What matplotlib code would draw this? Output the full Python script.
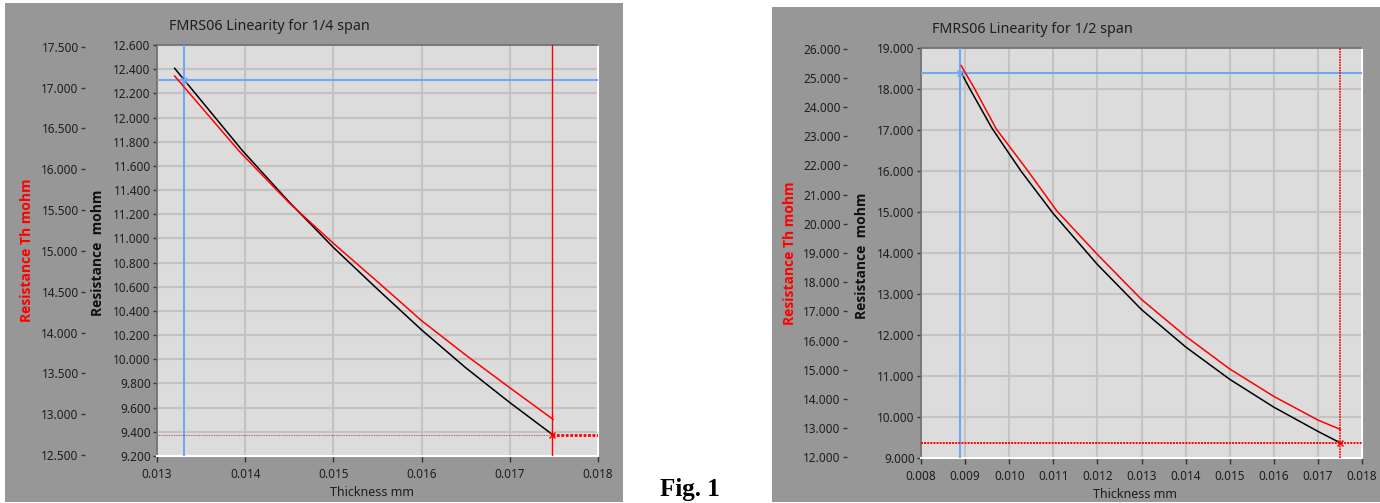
import matplotlib
matplotlib.use("Agg")
import matplotlib.pyplot as plt
from matplotlib.patches import Rectangle
from matplotlib.ticker import FixedLocator, FormatStrFormatter

# ---------------- data ----------------
left_title = "FMRS06 Linearity for 1/4 span"
right_title = "FMRS06 Linearity for 1/2 span"
x_label = "Thickness mm"
y_label_inner = "Resistance  mohm"
y_label_outer = "Resistance Th mohm"
fig_label = "Fig. 1"

# left panel (1/4 span)
left_t_black = [0.01320, 0.01397, 0.01450, 0.01500, 0.01550, 0.01600, 0.01650, 0.01700, 0.01749]
left_r_black = [12.407, 11.725, 11.300, 10.925, 10.580, 10.243, 9.930, 9.642, 9.374]
left_t_red = [0.01320, 0.01393, 0.01450, 0.01500, 0.01550, 0.01600, 0.01650, 0.01700, 0.01749]
left_r_red = [17.141, 16.223, 15.586, 15.092, 14.622, 14.145, 13.725, 13.324, 12.937]
left_xticks = [0.013, 0.014, 0.015, 0.016, 0.017, 0.018]
left_yticks_in = [9.2, 9.4, 9.6, 9.8, 10.0, 10.2, 10.4, 10.6, 10.8, 11.0,
                  11.2, 11.4, 11.6, 11.8, 12.0, 12.2, 12.4, 12.6]
left_yticks_out = [12.5, 13.0, 13.5, 14.0, 14.5, 15.0, 15.5, 16.0, 16.5, 17.0, 17.5]
left_cursor_blue = [0.01331, 12.31]
left_cursor_red = [0.01748, 9.374]

# right panel (1/2 span)
right_t_black = [0.00891, 0.00911, 0.00960, 0.01000, 0.01028, 0.01100, 0.01200,
                 0.01300, 0.01400, 0.01500, 0.01600, 0.01700, 0.01751]
right_r_black = [18.40, 18.00, 17.06, 16.42, 15.98, 14.96, 13.72,
                 12.62, 11.71, 10.92, 10.24, 9.65, 9.367]
right_t_red = [0.00891, 0.00921, 0.00971, 0.01041, 0.01108, 0.01200,
               0.01300, 0.01400, 0.01500, 0.01600, 0.01700, 0.01751]
right_r_red = [25.42, 24.64, 23.24, 21.84, 20.44, 18.95,
               17.41, 16.15, 15.03, 14.09, 13.28, 12.96]
right_xticks = [0.008, 0.009, 0.010, 0.011, 0.012, 0.013, 0.014, 0.015, 0.016, 0.017, 0.018]
right_yticks_in = [9, 10, 11, 12, 13, 14, 15, 16, 17, 18, 19]
right_yticks_out = [12, 13, 14, 15, 16, 17, 18, 19, 20, 21, 22, 23, 24, 25, 26]
right_cursor_blue = [0.00889, 18.40]
right_cursor_red = [0.01751, 9.367]

# ---------------- styling ----------------
W, H = 1380, 503
plt.rcParams["font.family"] = ["Noto Sans", "DejaVu Sans"]
PANEL = "#979797"
PLOTBG = "#dcdcdc"
GRID = "#c3c3c3"
TXT = "#1e1e1e"
BLUE = "#70a9f0"
RED = "#ff0000"
LABEL_FONT = ["Open Sans", "Noto Sans", "DejaVu Sans"]

fig = plt.figure(figsize=(W / 100, H / 100), dpi=100)
fig.patch.set_facecolor("white")


def rect(l, t, r, b):
    return [l / W, 1 - b / H, (r - l) / W, (b - t) / H]


def gray_panel(l, t, r, b):
    fig.add_artist(Rectangle((l / W, 1 - b / H), (r - l) / W, (b - t) / H,
                             transform=fig.transFigure, facecolor=PANEL,
                             edgecolor="none", zorder=-5))


def panel(box, xlim, xticks, ylim_in, yticks_in, ylim_out, yticks_out,
          t_blk, r_blk, t_red, r_red, cur_b, cur_r, outward_px, thin_left):
    ax = fig.add_axes(rect(*box))
    ax.set_facecolor(PLOTBG)
    ax.set_xlim(*xlim)
    ax.set_ylim(*ylim_in)
    ax.xaxis.set_major_locator(FixedLocator(xticks))
    ax.yaxis.set_major_locator(FixedLocator(yticks_in))
    ax.xaxis.set_major_formatter(FormatStrFormatter("%.3f"))
    ax.yaxis.set_major_formatter(FormatStrFormatter("%.3f"))
    ax.grid(True, color=GRID, lw=1.5, zorder=0)
    ax.set_axisbelow(True)
    for s in ("top", "left"):
        ax.spines[s].set_color("#6f6f6f")
        ax.spines[s].set_linewidth(1.2)
    for s in ("bottom", "right"):
        ax.spines[s].set_color("white")
        ax.spines[s].set_linewidth(1.5)
    ax.tick_params(axis="x", direction="out", length=4.5, width=1, color="#333333",
                   pad=4.5, labelsize=8.5, labelcolor=TXT)
    ax.tick_params(axis="y", direction="out", length=3, width=1, color="#333333",
                   pad=1.5, labelsize=8.5, labelcolor=TXT)

    # black trace (inner axis)
    ax.plot(t_blk, r_blk, color="black", lw=1.1, zorder=4)

    # cursors
    ax.axvline(cur_b[0], color=BLUE, lw=1.5, zorder=3)
    ax.axhline(cur_b[1], color=BLUE, lw=1.5, zorder=3)
    ax.plot([cur_b[0]], [cur_b[1]], marker="x", ms=5, mew=1.0, color=BLUE, zorder=6)
    if thin_left:
        ax.axvline(cur_r[0], color=RED, lw=1.0, zorder=3)
        ax.plot([xlim[0], cur_r[0]], [cur_r[1], cur_r[1]], color="#b03030", lw=0.6,
                ls=(0, (1, 1)), zorder=3)
        ax.plot([cur_r[0], xlim[1]], [cur_r[1], cur_r[1]], color=RED, lw=2.0,
                ls=(0, (1, 0.6)), zorder=3)
    else:
        ax.axvline(cur_r[0], color=RED, lw=1.2, ls=(0, (1, 0.6)), zorder=3)
        ax.axhline(cur_r[1], color=RED, lw=1.4, ls=(0, (1, 0.6)), zorder=3)
    ax.plot([cur_r[0]], [cur_r[1]], marker="x", ms=5, mew=1.0, color=RED, zorder=6)

    # outer axis for the red trace
    ax2 = ax.twinx()
    ax2.set_ylim(*ylim_out)
    ax2.yaxis.set_ticks_position("left")
    ax2.spines["left"].set_position(("outward", outward_px * 0.72))
    for s in ax2.spines.values():
        s.set_visible(False)
    ax2.yaxis.set_major_locator(FixedLocator(yticks_out))
    ax2.yaxis.set_major_formatter(FormatStrFormatter("%.3f"))
    ax2.tick_params(axis="y", direction="out", length=3, width=1, color="#333333",
                    pad=1.5, labelsize=8.5, labelcolor=TXT)
    ax2.plot(t_red, r_red, color=RED, lw=1.1, zorder=4)
    return ax, ax2


# left panel
gray_panel(5, 3, 623, 502)
panel((157, 45, 598, 456), (0.013, 0.018), left_xticks, (9.2, 12.6), left_yticks_in,
      (12.488, 17.521), left_yticks_out, left_t_black, left_r_black,
      left_t_red, left_r_red, left_cursor_blue, left_cursor_red, 72, True)
fig.text(269.5 / W, 1 - 26 / H, left_title, ha="center", va="center", fontsize=10.3, color=TXT)
fig.text(372 / W, 1 - 493 / H, x_label, ha="center", va="center", fontsize=9, color=TXT)
fig.text(27 / W, 1 - 250 / H, y_label_outer, rotation=90, ha="center", va="center",
         fontsize=10, fontweight="bold", family=LABEL_FONT, color=RED)
fig.text(98 / W, 1 - 253 / H, y_label_inner, rotation=90, ha="center", va="center",
         fontsize=10, fontweight="bold", family=LABEL_FONT, color="#111111")

# right panel
gray_panel(772, 7, 1380, 502)
panel((921, 48, 1362, 458), (0.008, 0.018), right_xticks, (9.0, 19.0), right_yticks_in,
      (11.98, 26.02), right_yticks_out, right_t_black, right_r_black,
      right_t_red, right_r_red, right_cursor_blue, right_cursor_red, 74, False)
fig.text(1032 / W, 1 - 29.3 / H, right_title, ha="center", va="center", fontsize=10.3, color=TXT)
fig.text(1135 / W, 1 - 495 / H, x_label, ha="center", va="center", fontsize=9, color=TXT)
fig.text(790 / W, 1 - 253 / H, y_label_outer, rotation=90, ha="center", va="center",
         fontsize=10, fontweight="bold", family=LABEL_FONT, color=RED)
fig.text(862 / W, 1 - 256 / H, y_label_inner, rotation=90, ha="center", va="center",
         fontsize=10, fontweight="bold", family=LABEL_FONT, color="#111111")

# figure caption
fig.text(690 / W, 1 - 496 / H, fig_label, ha="center", va="baseline", fontsize=18,
         fontweight="bold", family=["Liberation Serif", "DejaVu Serif"], color="black")

fig.savefig("out.png", dpi=100, facecolor="white")
